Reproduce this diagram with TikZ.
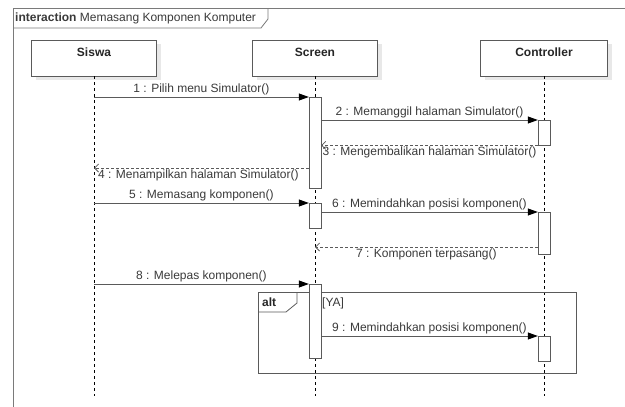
\documentclass[tikz,border=0pt]{standalone}
\usepackage{fontspec}
\setmainfont{Liberation Sans}
\usetikzlibrary{arrows.meta,shadows}
\definecolor{linegray}{HTML}{5A5A5A}
\definecolor{framegray}{HTML}{7A7A7A}
\definecolor{textgray}{HTML}{3A3A3A}
\definecolor{shadowgray}{HTML}{E8E8E8}
\begin{document}
\begin{tikzpicture}[x=1pt,y=-1pt,
  font=\fontsize{12}{14}\selectfont,
  actor/.style={draw=linegray,fill=white,minimum width=125pt,minimum height=36pt,
    inner sep=0pt,text height=16pt,text depth=20pt,text=black!85,
    font=\fontsize{12}{14}\selectfont\bfseries,
    drop shadow={shadow xshift=4pt,shadow yshift=-4pt,fill=shadowgray,opacity=1}},
  activation/.style={draw=linegray,fill=white,minimum width=12pt,inner sep=0pt,anchor=north},
  lifeline/.style={black,line width=0.6pt,dash pattern=on 3pt off 3pt},
  call/.style={draw=linegray,line width=0.8pt,-{Triangle[length=10pt,width=7pt,color=black]}},
  reply/.style={draw=linegray,line width=0.8pt,dash pattern=on 3pt off 2pt,
    -{Straight Barb[length=4pt,width=8pt]}},
  msglabel/.style={text=textgray,inner sep=1.5pt},
  frame/.style={draw=framegray,line width=0.8pt}]
\clip (0,0) rectangle (625,407);
\fill[white] (0,0) rectangle (625,407);
%%% the interaction frame
\draw[frame] (13,420) -- (13,8) -- (640,8);
\draw[frame] (13,28) -- (261,28) -- (268,19) -- (268,8);
\node[anchor=west,inner sep=0pt,text=textgray] (title) at (15,18.5)
  {\textbf{interaction} Memasang Komponen Komputer};
%%% the three objects
\node[actor] (siswa) at (94,58) {Siswa};
\node[actor] (screen) at (315,58) {Screen};
\node[actor,minimum width=127pt] (controller) at (544,58) {Controller};
\coordinate (bottom) at (0,396);
\draw[lifeline] (siswa.south) -- (siswa |- bottom);
\draw[lifeline] (screen.south) -- (screen |- bottom);
\draw[lifeline] (controller.south) -- (controller |- bottom);
%%% alt fragment
\draw[frame,draw=linegray] (258,292) rectangle (576,373);
\draw[frame,draw=linegray] (258,312) -- (286,312) -- (297,303) -- (297,292);
\node[anchor=west,inner sep=0pt,font=\fontsize{12}{14}\selectfont\bfseries,text=black!85] (alt) at (262,302) {alt};
\node[anchor=west,inner sep=0pt,text=textgray] (guard) at (322,303.5) {[YA]};
%%% activation bars
\node[activation,minimum height=91pt] (a1) at (315,97) {};
\node[activation,minimum height=25pt] (a2) at (544,120) {};
\node[activation,minimum height=25pt] (a3) at (315,203) {};
\node[activation,minimum height=42pt] (a4) at (544,212) {};
\node[activation,minimum height=74pt] (a5) at (315,284) {};
\node[activation,minimum height=25pt] (a6) at (544,336) {};
\coordinate (y4) at (0,168);
\coordinate (y7) at (0,247);
%%% messages
\draw[call] (siswa |- a1.north) -- (a1.north west)
  node[msglabel,midway,above] {1 : Pilih menu Simulator()};
\draw[call] (a1.east |- a2.north) -- (a2.north west)
  node[msglabel,midway,above] {2 : Memanggil halaman Simulator()};
\draw[reply] (a2.south west) -- (a1.east |- a2.south)
  node[msglabel,midway,below] {3 : Mengembalikan halaman Simulator()};
\draw[reply] (a1.west |- y4) -- (siswa |- y4)
  node[msglabel,midway,below,xshift=-3pt] {4 : Menampilkan halaman Simulator()};
\draw[call] (siswa |- a3.north) -- (a3.north west)
  node[msglabel,midway,above] {5 : Memasang komponen()};
\draw[call] (a3.east |- a4.north) -- (a4.north west)
  node[msglabel,midway,above] {6 : Memindahkan posisi komponen()};
\draw[reply] (a4.west |- y7) -- (screen |- y7)
  node[msglabel,midway,below] {7 : Komponen terpasang()};
\draw[call] (siswa |- a5.north) -- (a5.north west)
  node[msglabel,midway,above] {8 : Melepas komponen()};
\draw[call] (a5.east |- a6.north) -- (a6.north west)
  node[msglabel,midway,above] {9 : Memindahkan posisi komponen()};
\end{tikzpicture}
\end{document}
